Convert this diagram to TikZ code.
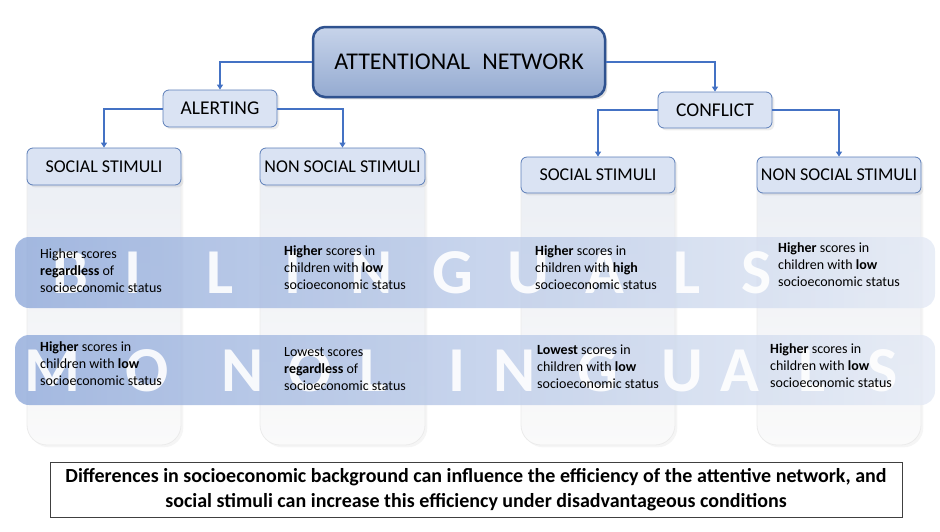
\documentclass[tikz,border=0pt]{standalone}
\usepackage{fontspec}
\setmainfont{Carlito}
\usetikzlibrary{arrows.meta,shadows}
\definecolor{linkblue}{HTML}{4472C4}
\definecolor{headfill}{HTML}{DAE3F3}
\definecolor{headline}{HTML}{5B7DB8}
\definecolor{topline}{HTML}{2F528F}
\definecolor{bandleft}{HTML}{8FA9DA}
\definecolor{bandmid}{HTML}{C6D4EE}
\definecolor{bandright}{HTML}{E4EAF5}
\begin{document}
\begin{tikzpicture}[x=1pt,y=-1pt,
  topbox/.style={draw=topline,line width=2.5pt,rounded corners=12pt,top color=headfill!85!headline,bottom color=headline!65!white,
    minimum width=292pt,minimum height=70pt,inner sep=0pt,drop shadow={opacity=.25},font=\fontsize{24}{26}\selectfont},
  head/.style={draw=headline,line width=.8pt,fill=headfill,rounded corners=6pt,minimum height=37pt,inner sep=0pt,
    drop shadow={opacity=.15},font=\fontsize{18}{20}\selectfont},
  column/.style={top color=black!6!headfill!40!white,bottom color=black!2,draw=black!8,line width=.8pt,
    rounded corners=20pt,drop shadow={opacity=.08}},
  band/.style={left color=bandleft,middle color=bandmid,right color=bandright,fill opacity=.8,rounded corners=14pt},
  letter/.style={text=white,opacity=.9,inner sep=0pt,font=\bfseries\fontsize{64}{64}\selectfont},
  cell/.style={anchor=west,align=left,inner sep=0pt,font=\fontsize{14}{17}\selectfont},
  link/.style={draw=linkblue,line width=2pt,-{Triangle[length=5pt,width=6pt]}}]
\useasboundingbox (0,0) rectangle (940,531);

% pale columns
\path[column] (27,160) rectangle (181,445);
\path[column] (260,160) rectangle (425,445);
\path[column] (521,170) rectangle (675,445);
\path[column] (757,170) rectangle (921,445);

% the two bands
\shade[band] (15,237) rectangle (935,308);
\shade[band] (15,335) rectangle (935,405);

% big letters
\foreach \ch/\xx in {B/70,I/133,L/220,I/293,N/372,G/453,U/528,A/605,L/687,S/757}
  \node[letter] at (\xx,273) {\ch};
\foreach \ch/\xx in {M/52,O/147,N/243,O/310,L/373,I/457,N/515,G/598,U/682,A/740,L/812,S/883}
  \node[letter] at (\xx,371) {\ch};

% tree
\node[topbox] (net) at (459,62) {ATTENTIONAL\hspace{.5em}NETWORK};
\node[head,minimum width=114pt,font=\fontsize{19.5}{21}\selectfont] (alert) at (220,108.5) {ALERTING};
\node[head,minimum width=114pt,minimum height=36pt,font=\fontsize{19.5}{21}\selectfont] (confl) at (715,110) {CONFLICT};
\node[head,minimum width=154pt] (asoc) at (104,166.5) {SOCIAL STIMULI};
\node[head,minimum width=165pt] (anon) at (342.5,166.5) {NON SOCIAL STIMULI};
\node[head,minimum width=154pt,minimum height=36pt] (csoc) at (598,175) {SOCIAL STIMULI};
\node[head,minimum width=164pt,minimum height=36pt] (cnon) at (839,175) {NON SOCIAL STIMULI};

\draw[link] (net.west) -| (alert.north);
\draw[link] (net.east) -| (confl.north);
\draw[link] (alert.west) -| (asoc.north);
\draw[link] (alert.east) -| (anon.north);
\draw[link] (confl.west) -| (csoc.north);
\draw[link] (confl.east) -| (cnon.north);

% bilinguals
\node[cell] (b1) at (40,271) {Higher scores\\\textbf{regardless} of\\socioeconomic status};
\node[cell] (b2) at (284,268) {\textbf{Higher} scores in\\children with \textbf{low}\\socioeconomic status};
\node[cell] (b3) at (535,268) {\textbf{Higher} scores in\\children with \textbf{high}\\socioeconomic status};
\node[cell] (b4) at (778,265) {\textbf{Higher} scores in\\children with \textbf{low}\\socioeconomic status};
% monolinguals
\node[cell] (m1) at (40,364) {\textbf{Higher} scores in\\children with \textbf{low}\\socioeconomic status};
\node[cell] (m2) at (284,369) {Lowest scores\\\textbf{regardless} of\\socioeconomic status};
\node[cell] (m3) at (537,367) {\textbf{Lowest} scores in\\children with \textbf{low}\\socioeconomic status};
\node[cell] (m4) at (770,366) {\textbf{Higher} scores in\\children with \textbf{low}\\socioeconomic status};

% conclusion
\node[draw=black!75,line width=.8pt,fill=white,minimum width=852pt,minimum height=55pt,inner sep=0pt,align=center,
  font=\bfseries\fontsize{20}{25}\selectfont] (note) at (476,489.5)
  {Differences in socioeconomic background can influence the efficiency of the attentive network, and\\
   social stimuli can increase this efficiency under disadvantageous conditions};
\end{tikzpicture}
\end{document}
